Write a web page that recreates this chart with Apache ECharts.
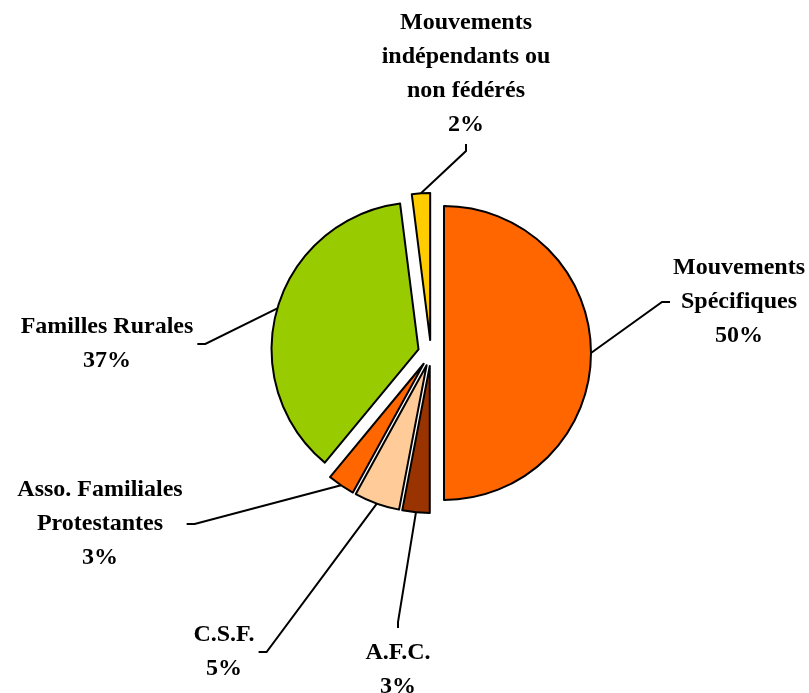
<!DOCTYPE html>
<html>
<head>
<meta charset="utf-8">
<script src="https://cdn.jsdelivr.net/npm/echarts@6/dist/echarts.min.js"></script>
<style>
html,body{margin:0;padding:0;background:#fff;}
#chart{width:809px;height:693px;}
</style>
</head>
<body>
<div id="chart"></div>
<script>
// catégories, dans l'ordre du camembert (à partir de midi, sens horaire)
var categories = ['Mouvements\nSpécifiques', 'A.F.C.', 'C.S.F.', 'Asso. Familiales\nProtestantes', 'Familles Rurales', 'Mouvements\nindépendants ou\nnon fédérés'];
// parts en %
var values = [50, 3, 5, 3, 37, 2];
var colors = ['#FF6600', '#993300', '#FFCC99', '#FF6600', '#99CC00', '#FFCC00'];

// centre des étiquettes (x, y) et côté où arrive le trait
var labelPos = [[739, 302], [398, 670], [224, 652], [100, 524], [107, 344], [466, 74]];
var labelSide = ['left', 'top', 'right', 'right', 'right', 'bottom'];

var pieCenter = [431, 353];
var pieRadius = 147;
var pieOffset = 13;

var myChart = echarts.init(document.getElementById('chart'));

//parts éclatées (dessinées)
var slices = [];
//même données, invisibles, pour porter les étiquettes
var labelData = [];
var total = 0;
for (var i = 0; i < categories.length; i++) {
	total += values[i];
	slices.push({
		name: categories[i],
		value: values[i],
		selected: true,
		itemStyle: {color: colors[i]}
	});
	labelData.push({name: categories[i], value: values[i]});
}

//angle du milieu de la part (radians, depuis midi, sens horaire)
function midAngle(idx){
	var before = 0;
	for (var k = 0; k < idx; k++) before += values[k];
	return (before + values[idx] / 2) / total * Math.PI * 2;
}

var option = {
	animation: false,
	series: [{
		// étiquettes + traits de rappel, sous les parts
		type: 'pie',
		z: 1,
		silent: true,
		center: pieCenter,
		radius: pieRadius,
		startAngle: 90,
		avoidLabelOverlap: false,
		itemStyle: {color: 'rgba(0,0,0,0)', borderWidth: 0},
		emphasis: {disabled: true},
		label: {
			show: true,
			position: 'outside',
			formatter: '{b}\n{c}%',
			color: '#000',
			fontFamily: 'Liberation Serif',
			fontWeight: 'bold',
			fontSize: 24,
			lineHeight: 34,
			align: 'center'
		},
		labelLine: {
			show: true,
			length: 20,
			length2: 8,
			lineStyle: {color: '#000', width: 2}
		},
		labelLayout: function (params) {
			var i = params.dataIndex;
			var p = labelPos[i];
			var w = params.labelRect.width, h = params.labelRect.height;
			var a = midAngle(i);
			var r = pieRadius + pieOffset;
			var anchor = [pieCenter[0] + r * Math.sin(a), pieCenter[1] - r * Math.cos(a)];
			var end, knee;
			if (labelSide[i] == 'left') {
				end = [p[0] - w / 2 - 3, p[1]]; knee = [end[0] - 8, end[1]];
			} else if (labelSide[i] == 'right') {
				end = [p[0] + w / 2 + 4, p[1]]; knee = [end[0] + 8, end[1]];
			} else if (labelSide[i] == 'top') {
				end = [p[0], p[1] - h / 2 - 8]; knee = [end[0], end[1] - 6];
			} else {
				end = [p[0], p[1] + h / 2 + 2]; knee = [end[0], end[1] + 7];
			}
			return {
				x: p[0], y: p[1], align: 'center', verticalAlign: 'middle',
				labelLinePoints: [anchor, knee, end]
			};
		},
		data: labelData
	}, {
		// les parts éclatées
		type: 'pie',
		z: 5,
		center: pieCenter,
		radius: pieRadius,
		startAngle: 90,
		selectedMode: 'multiple',
		selectedOffset: pieOffset,
		itemStyle: {borderColor: '#000', borderWidth: 2},
		emphasis: {disabled: true},
		label: {show: false},
		labelLine: {show: false},
		data: slices
	}]
};
myChart.setOption(option);
</script>
</body>
</html>
